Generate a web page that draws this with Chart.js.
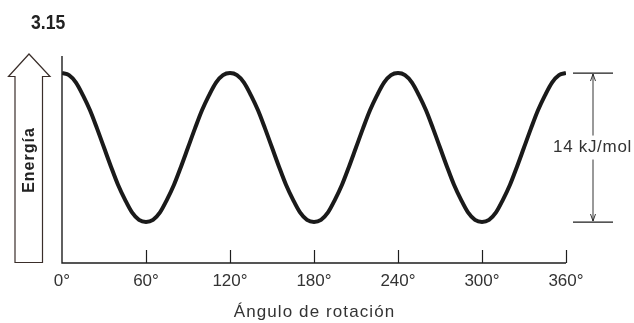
<!DOCTYPE html>
<html><head><meta charset="utf-8">
<script src="https://cdn.jsdelivr.net/npm/chart.js@4/dist/chart.umd.min.js"></script>
<style>html,body{margin:0;padding:0;background:#fff}#wrap{width:634px;height:323px;position:relative}</style>
</head><body><div id="wrap"><canvas id="c" width="634" height="323"></canvas></div>
<script>
// Rotation angle (degrees) and relative energy (kJ/mol)
const angles = [0,5,10,15,20,25,30,35,40,45,50,55,60,65,70,75,80,85,90,95,100,105,110,115,
  120,125,130,135,140,145,150,155,160,165,170,175,180,185,190,195,200,205,210,215,220,225,230,235,
  240,245,250,255,260,265,270,275,280,285,290,295,300,305,310,315,320,325,330,335,340,345,350,355,360];
const energies = [14,13.8,13.1,11.9,10.5,8.8,7,5.2,3.5,2.1,0.9,0.2,0,0.2,0.9,2.1,3.5,5.2,7,8.8,10.5,11.9,13.1,13.8,
  14,13.8,13.1,11.9,10.5,8.8,7,5.2,3.5,2.1,0.9,0.2,0,0.2,0.9,2.1,3.5,5.2,7,8.8,10.5,11.9,13.1,13.8,
  14,13.8,13.1,11.9,10.5,8.8,7,5.2,3.5,2.1,0.9,0.2,0,0.2,0.9,2.1,3.5,5.2,7,8.8,10.5,11.9,13.1,13.8,14];
const xTicks = [0,60,120,180,240,300,360];
const tickLabels = ['0°','60°','120°','180°','240°','300°','360°'];
const barrierTop = 14;
const barrierBottom = 0;
const barrierLabel = '14 kJ/mol';
const xTitle = 'Ángulo de rotación';
const yLabel = 'Energía';
const figTitle = '3.15';

const FONT = '"Liberation Sans", Arial, sans-serif';
const INK = '#1e1e1e';

const decor = {
  id: 'decor',
  afterDraw(chart) {
    const {ctx, chartArea: a, scales: {x, y}} = chart;
    ctx.save();
    // axes
    ctx.strokeStyle = INK; ctx.lineWidth = 1.4; ctx.lineCap = 'butt';
    ctx.beginPath();
    ctx.moveTo(a.left, a.top); ctx.lineTo(a.left, a.bottom); ctx.lineTo(a.right, a.bottom);
    ctx.stroke();
    // inward tick marks
    ctx.lineWidth = 1.2;
    xTicks.forEach(v => {
      if (v === xTicks[0]) return;
      const px = Math.round(x.getPixelForValue(v)) + 0.5;
      ctx.beginPath(); ctx.moveTo(px, a.bottom); ctx.lineTo(px, a.bottom - 13); ctx.stroke();
    });
    // x axis title
    ctx.save();
    ctx.font = '17px ' + FONT;
    ctx.letterSpacing = '1.1px';
    ctx.fillStyle = '#333';
    ctx.textAlign = 'center'; ctx.textBaseline = 'middle';
    ctx.fillText(xTitle, (a.left + a.right) / 2 + 0.5, 312);
    ctx.restore();
    // barrier annotation
    const yT = y.getPixelForValue(barrierTop), yB = y.getPixelForValue(barrierBottom);
    const ax = 593;
    ctx.lineWidth = 1.2; ctx.strokeStyle = INK;
    ctx.beginPath();
    ctx.moveTo(573, yT); ctx.lineTo(613, yT);
    ctx.moveTo(573, yB); ctx.lineTo(613, yB);
    ctx.stroke();
    ctx.lineWidth = 0.9;
    ctx.beginPath(); ctx.moveTo(ax, yT + 1); ctx.lineTo(ax, yB - 1); ctx.stroke();
    ctx.beginPath();
    ctx.moveTo(ax - 2.5, yT + 8); ctx.lineTo(ax, yT + 1); ctx.lineTo(ax + 2.5, yT + 8);
    ctx.moveTo(ax - 2.5, yB - 8); ctx.lineTo(ax, yB - 1); ctx.lineTo(ax + 2.5, yB - 8);
    ctx.stroke();
    const ym = (yT + yB) / 2;
    ctx.save();
    ctx.font = '17px ' + FONT;
    ctx.letterSpacing = '0.7px';
    const tw = ctx.measureText(barrierLabel).width;
    ctx.fillStyle = '#fff';
    ctx.fillRect(592.5 - tw / 2 - 2, ym - 12, tw + 4, 24);
    ctx.fillStyle = '#333';
    ctx.textAlign = 'center'; ctx.textBaseline = 'middle';
    ctx.fillText(barrierLabel, 592.5, ym);
    ctx.restore();
    // hollow energy arrow
    ctx.strokeStyle = '#3a2e2a'; ctx.lineWidth = 1.2; ctx.lineJoin = 'miter';
    ctx.beginPath();
    ctx.moveTo(15, 262.5); ctx.lineTo(15, 76.5); ctx.lineTo(8.5, 76.5);
    ctx.lineTo(29, 54); ctx.lineTo(50, 76.5); ctx.lineTo(42.5, 76.5);
    ctx.lineTo(42.5, 262.5); ctx.closePath();
    ctx.stroke();
    ctx.save();
    ctx.translate(29.5, 160);
    ctx.rotate(-Math.PI / 2);
    ctx.font = 'bold 16px ' + FONT;
    ctx.letterSpacing = '1px';
    ctx.fillStyle = '#222';
    ctx.textAlign = 'center'; ctx.textBaseline = 'middle';
    ctx.fillText(yLabel, 0, 0);
    ctx.restore();
    // figure number (condensed bold)
    ctx.save();
    ctx.setTransform(0.88, 0, 0, 1, 31, 23);
    ctx.font = 'bold 20px ' + FONT;
    ctx.letterSpacing = '0px';
    ctx.fillStyle = '#222';
    ctx.textAlign = 'left'; ctx.textBaseline = 'middle';
    ctx.fillText(figTitle, 0, 0);
    ctx.restore();
    ctx.restore();
  }
};

new Chart(document.getElementById('c'), {
  type: 'line',
  data: {
    datasets: [{
      data: angles.map((a, i) => ({x: a, y: energies[i]})),
      borderColor: '#1a1a1a',
      borderWidth: 4,
      pointRadius: 0,
      cubicInterpolationMode: 'monotone',
      fill: false
    }]
  },
  options: {
    responsive: false,
    animation: false,
    devicePixelRatio: 1,
    layout: {padding: {left: 62, right: 68, top: 56, bottom: 0}},
    plugins: {legend: {display: false}, tooltip: {enabled: false}},
    scales: {
      x: {
        type: 'linear', min: 0, max: 360,
        afterBuildTicks: s => { s.ticks = xTicks.map(v => ({value: v})); },
        afterFit: s => { s.height = 60; },
        grid: {display: false, drawTicks: false},
        border: {display: false},
        ticks: {
          autoSkip: false, maxRotation: 0, padding: 8,
          color: '#333', font: {family: FONT, size: 17},
          callback: v => tickLabels[xTicks.indexOf(v)]
        },
        title: {display: false}
      },
      y: {display: false, min: -3.85, max: 15.6}
    }
  },
  plugins: [decor]
});
</script>
</body></html>
